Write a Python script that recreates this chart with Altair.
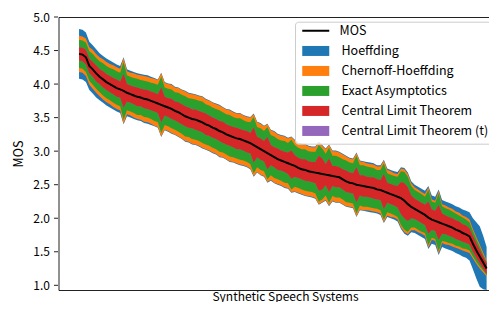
import altair as alt
import pandas as pd

mos = [4.45, 4.44, 4.40, 4.27, 4.22, 4.16, 4.11, 4.07, 4.03, 4.00,
       3.97, 3.94, 3.92, 3.90, 3.87, 3.85, 3.83, 3.81, 3.80, 3.78,
       3.77, 3.75, 3.73, 3.71, 3.69, 3.67, 3.65, 3.63, 3.60, 3.58,
       3.55, 3.52, 3.50, 3.48, 3.47, 3.45, 3.43, 3.40, 3.38, 3.35,
       3.33, 3.30, 3.28, 3.25, 3.23, 3.21, 3.19, 3.18, 3.16, 3.14,
       3.12, 3.09, 3.06, 3.03, 3.00, 2.97, 2.94, 2.91, 2.88, 2.86,
       2.84, 2.82, 2.80, 2.78, 2.75, 2.73, 2.72, 2.70, 2.69, 2.68,
       2.67, 2.66, 2.65, 2.64, 2.63, 2.62, 2.61, 2.58, 2.55, 2.53,
       2.52, 2.50, 2.49, 2.48, 2.47, 2.46, 2.45, 2.43, 2.42, 2.40,
       2.38, 2.36, 2.34, 2.32, 2.30, 2.26, 2.21, 2.17, 2.14, 2.11,
       2.08, 2.05, 2.01, 1.98, 1.96, 1.94, 1.92, 1.90, 1.88, 1.86,
       1.83, 1.81, 1.78, 1.76, 1.73, 1.62, 1.52, 1.43, 1.34, 1.25]

clt_hw = [0.10, 0.10, 0.11, 0.11, 0.11, 0.12, 0.11, 0.12, 0.12, 0.12,
          0.12, 0.13, 0.12, 0.25, 0.13, 0.13, 0.13, 0.14, 0.13, 0.14,
          0.14, 0.14, 0.14, 0.14, 0.26, 0.14, 0.14, 0.15, 0.14, 0.15,
          0.15, 0.15, 0.15, 0.14, 0.15, 0.15, 0.15, 0.16, 0.15, 0.15,
          0.15, 0.15, 0.16, 0.15, 0.15, 0.15, 0.16, 0.15, 0.15, 0.16,
          0.15, 0.26, 0.15, 0.16, 0.15, 0.24, 0.15, 0.15, 0.16, 0.15,
          0.15, 0.16, 0.21, 0.16, 0.15, 0.15, 0.16, 0.15, 0.15, 0.16,
          0.26, 0.23, 0.16, 0.25, 0.15, 0.16, 0.15, 0.15, 0.16, 0.15,
          0.15, 0.26, 0.15, 0.16, 0.15, 0.15, 0.16, 0.15, 0.15, 0.26,
          0.15, 0.15, 0.15, 0.16, 0.24, 0.26, 0.25, 0.17, 0.15, 0.15,
          0.15, 0.15, 0.24, 0.15, 0.15, 0.26, 0.15, 0.14, 0.14, 0.14,
          0.14, 0.14, 0.13, 0.13, 0.12, 0.12, 0.11, 0.10, 0.09, 0.08]

exact_hw = [0.21, 0.21, 0.22, 0.22, 0.23, 0.23, 0.23, 0.24, 0.24, 0.24,
            0.25, 0.25, 0.25, 0.43, 0.26, 0.26, 0.26, 0.27, 0.26, 0.27,
            0.27, 0.27, 0.28, 0.28, 0.42, 0.28, 0.28, 0.29, 0.28, 0.29,
            0.29, 0.30, 0.29, 0.30, 0.30, 0.30, 0.31, 0.30, 0.30, 0.30,
            0.30, 0.31, 0.30, 0.30, 0.31, 0.30, 0.30, 0.31, 0.30, 0.30,
            0.31, 0.42, 0.30, 0.31, 0.30, 0.39, 0.30, 0.31, 0.30, 0.30,
            0.31, 0.30, 0.37, 0.31, 0.30, 0.30, 0.31, 0.30, 0.30, 0.31,
            0.42, 0.38, 0.31, 0.41, 0.30, 0.31, 0.30, 0.30, 0.31, 0.30,
            0.30, 0.43, 0.30, 0.31, 0.30, 0.30, 0.30, 0.29, 0.30, 0.42,
            0.29, 0.29, 0.29, 0.30, 0.40, 0.43, 0.41, 0.31, 0.28, 0.28,
            0.28, 0.27, 0.41, 0.27, 0.27, 0.43, 0.26, 0.25, 0.25, 0.24,
            0.24, 0.23, 0.23, 0.22, 0.21, 0.19, 0.17, 0.15, 0.12, 0.10]

chernoff_hw = [0.27, 0.27, 0.28, 0.28, 0.29, 0.29, 0.29, 0.30, 0.30, 0.30,
               0.31, 0.31, 0.31, 0.49, 0.32, 0.32, 0.33, 0.33, 0.33, 0.34,
               0.34, 0.34, 0.35, 0.35, 0.47, 0.35, 0.35, 0.36, 0.35, 0.36,
               0.36, 0.37, 0.36, 0.37, 0.37, 0.37, 0.38, 0.37, 0.37, 0.37,
               0.37, 0.38, 0.37, 0.37, 0.38, 0.37, 0.37, 0.38, 0.37, 0.37,
               0.38, 0.46, 0.37, 0.38, 0.37, 0.43, 0.37, 0.38, 0.37, 0.37,
               0.38, 0.37, 0.41, 0.38, 0.37, 0.37, 0.38, 0.37, 0.37, 0.38,
               0.46, 0.42, 0.38, 0.45, 0.37, 0.38, 0.37, 0.37, 0.37, 0.36,
               0.36, 0.47, 0.36, 0.36, 0.35, 0.35, 0.35, 0.34, 0.35, 0.46,
               0.34, 0.34, 0.33, 0.34, 0.44, 0.47, 0.45, 0.35, 0.32, 0.32,
               0.31, 0.31, 0.45, 0.30, 0.30, 0.47, 0.29, 0.29, 0.28, 0.28,
               0.27, 0.27, 0.26, 0.26, 0.25, 0.22, 0.20, 0.18, 0.15, 0.12]

hoeffding_hw = [0.37, 0.37, 0.37, 0.36, 0.36, 0.36, 0.35, 0.35, 0.35, 0.35,
                0.35, 0.35, 0.35, 0.50, 0.35, 0.35, 0.35, 0.35, 0.35, 0.36,
                0.36, 0.36, 0.36, 0.36, 0.48, 0.36, 0.36, 0.37, 0.36, 0.37,
                0.37, 0.38, 0.37, 0.38, 0.38, 0.38, 0.39, 0.38, 0.38, 0.38,
                0.38, 0.39, 0.38, 0.38, 0.39, 0.38, 0.38, 0.39, 0.38, 0.38,
                0.39, 0.47, 0.38, 0.39, 0.38, 0.44, 0.38, 0.39, 0.38, 0.38,
                0.39, 0.38, 0.42, 0.39, 0.38, 0.38, 0.39, 0.38, 0.38, 0.39,
                0.47, 0.43, 0.39, 0.46, 0.38, 0.39, 0.38, 0.38, 0.38, 0.37,
                0.37, 0.48, 0.37, 0.37, 0.37, 0.37, 0.37, 0.36, 0.37, 0.47,
                0.36, 0.36, 0.36, 0.37, 0.46, 0.49, 0.47, 0.38, 0.36, 0.36,
                0.36, 0.36, 0.47, 0.36, 0.36, 0.49, 0.35, 0.35, 0.35, 0.35,
                0.35, 0.35, 0.35, 0.35, 0.36, 0.38, 0.42, 0.45, 0.40, 0.32]

band_names = ["Hoeffding", "Chernoff-Hoeffding", "Exact Asymptotics",
              "Central Limit Theorem", "Central Limit Theorem (t)"]
band_colors = ["#1f77b4", "#ff7f0e", "#2ca02c", "#d62728", "#9467bd"]
draw_order = ["Hoeffding", "Chernoff-Hoeffding", "Exact Asymptotics",
              "Central Limit Theorem (t)", "Central Limit Theorem"]
y_ticks = [1.0, 1.5, 2.0, 2.5, 3.0, 3.5, 4.0, 4.5, 5.0]

band_hw = {
    "Hoeffding": hoeffding_hw,
    "Chernoff-Hoeffding": chernoff_hw,
    "Exact Asymptotics": exact_hw,
    "Central Limit Theorem (t)": clt_hw,
    "Central Limit Theorem": clt_hw,
}

rows = []
for name, hw in band_hw.items():
    for i, (m, h) in enumerate(zip(mos, hw)):
        rows.append({"system": i, "method": name, "lo": m - h, "hi": m + h})
bands = pd.DataFrame(rows)
line_df = pd.DataFrame({"system": list(range(len(mos))), "mos": mos, "method": "MOS"})
tick_df = pd.DataFrame({"v": y_ticks})

FONT = "Noto Sans CJK JP"
LFS = 12.5

fill_legend = alt.Legend(
    title=" ", titleFontSize=LFS, titlePadding=4.5,
    orient="none", legendX=236.5, legendY=4.7,
    labelFont=FONT, labelFontSize=LFS, labelColor="black", labelLimit=400,
    symbolType="M-1,-1H4.4V1H-1Z", symbolSize=100, symbolStrokeWidth=0,
    symbolOpacity=1, labelOffset=28, rowPadding=7, padding=6,
    fillColor="rgba(255,255,255,0.8)", strokeColor="#cccccc", cornerRadius=3,
    zindex=1,
)
stroke_legend = alt.Legend(
    title=None, orient="none", legendX=242.5, legendY=7.5,
    labelFont=FONT, labelFontSize=LFS, labelColor="black", labelLimit=400,
    symbolType="M-1,0H4.4", symbolSize=100, symbolStrokeWidth=2,
    symbolOpacity=1, labelOffset=26, padding=0, zindex=2,
)

x_scale = alt.Scale(domain=[-6.0, 119.7], nice=False, zero=False)
x_axis = alt.Axis(title="Synthetic Speech Systems", labels=False, ticks=False,
                  grid=False, domain=False, titlePadding=1, titleX=226.5,
                  titleFont=FONT, titleFontSize=12, titleFontWeight="normal",
                  titleColor="black")
y_axis = alt.Axis(title="MOS", values=y_ticks,
                  format=".1f", grid=False, domain=False, ticks=False,
                  labelPadding=9, labelFont=FONT, labelFontSize=12, labelColor="black",
                  titleFont=FONT, titleFontSize=12.5, titleFontWeight="normal",
                  titleColor="black", titlePadding=7)
y_scale = alt.Scale(domain=[0.93, 5.0], nice=False, zero=False)
fill_scale = alt.Scale(domain=band_names, range=band_colors)

layers = []
for name in draw_order:
    layers.append(
        alt.Chart(bands).transform_filter(alt.datum.method == name)
        .mark_area(interpolate="linear", opacity=1, clip=True)
        .encode(x=alt.X("system:Q", scale=x_scale, axis=x_axis),
                y=alt.Y("lo:Q", scale=y_scale, axis=y_axis, stack=None),
                y2="hi:Q",
                fill=alt.Fill("method:N", scale=fill_scale, legend=fill_legend))
    )
layers.append(
    alt.Chart(line_df).mark_line(strokeWidth=2, clip=True)
    .encode(x=alt.X("system:Q", scale=x_scale, axis=x_axis),
            y=alt.Y("mos:Q", scale=y_scale, axis=y_axis),
            stroke=alt.Stroke("method:N", scale=alt.Scale(domain=["MOS"], range=["black"]),
                              legend=stroke_legend))
)
# y-axis tick marks, positioned by the y scale
layers.append(
    alt.Chart(tick_df).mark_tick(orient="horizontal", size=4, thickness=1,
                                 color="#222222", opacity=1)
    .encode(x=alt.value(-2.5), y=alt.Y("v:Q", scale=y_scale, axis=y_axis))
)

chart = (
    alt.layer(*layers)
    .properties(
        width=430.5, height=273,
        autosize=alt.AutoSizeParams(type="none"),
        padding={"left": 50.5, "top": 9, "right": 0, "bottom": 12},
    )
    .configure(font=FONT)
    .configure_view(stroke="#222222", strokeWidth=1, fill=None)
)

chart.save("out.html", embed_options={"renderer": "svg", "actions": False})
